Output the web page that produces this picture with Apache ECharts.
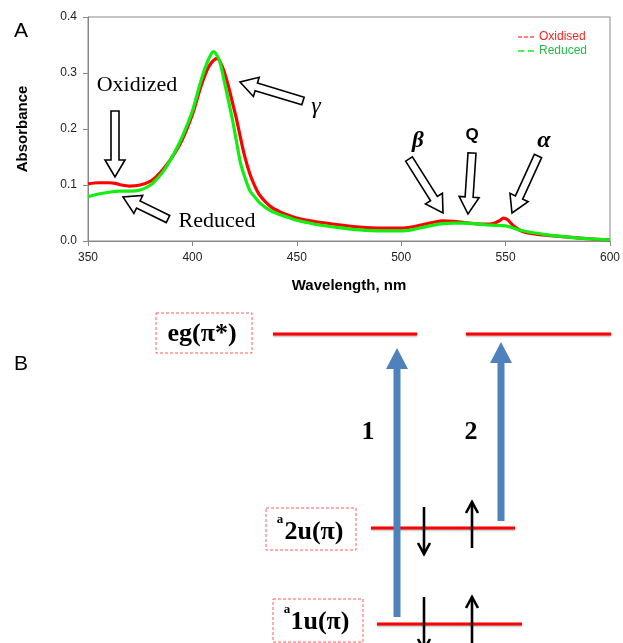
<!DOCTYPE html>
<html>
<head>
<meta charset="utf-8">
<script src="https://cdn.jsdelivr.net/npm/echarts@6/dist/echarts.min.js"></script>
<style>
html,body{margin:0;padding:0;background:#fff;}
#chart{width:623px;height:643px;}
</style>
</head>
<body>
<div id="chart"></div>
<script>
// ---- Data ----
const xTicks = [350, 400, 450, 500, 550, 600];
const yTicks = [0.0, 0.1, 0.2, 0.3, 0.4];
const seriesNames = ['Oxidised', 'Reduced'];

const oxWavelength = [350,355,360,363,366,370,375,380,383,386,390,395,400,404,407,409,411,412,413,415,417,419,421,423,425,427.5,430,432,435,438,442,446,450,455,460,470,480,490,500,505,510,515,520,525,530,535,540,544,547,549,551,553,556,560,570,580,590,600];
const oxAbsorbance = [0.102,0.104,0.104,0.103,0.100,0.098,0.100,0.107,0.116,0.128,0.148,0.180,0.226,0.275,0.305,0.318,0.325,0.326,0.322,0.305,0.280,0.250,0.220,0.185,0.152,0.120,0.097,0.083,0.070,0.060,0.052,0.046,0.041,0.037,0.034,0.029,0.025,0.023,0.023,0.025,0.029,0.033,0.036,0.035,0.033,0.031,0.030,0.031,0.036,0.041,0.038,0.030,0.021,0.015,0.010,0.007,0.004,0.002];

const redWavelength = [350,355,360,365,370,375,380,383,386,390,395,400,404,407,409,410,411,413,415,417,419,421,423,425,427.5,430,432,435,438,442,446,450,455,460,470,480,490,500,505,510,515,520,525,530,535,540,545,550,553,556,560,570,580,590,600];
const redAbsorbance = [0.079,0.084,0.087,0.089,0.089,0.091,0.100,0.111,0.124,0.148,0.185,0.232,0.285,0.318,0.334,0.338,0.336,0.322,0.290,0.255,0.220,0.180,0.140,0.115,0.090,0.078,0.069,0.060,0.053,0.047,0.042,0.037,0.033,0.029,0.024,0.020,0.018,0.018,0.020,0.024,0.028,0.031,0.032,0.032,0.031,0.029,0.028,0.027,0.024,0.020,0.017,0.011,0.007,0.004,0.002];

const colors = { ox: '#ff0000', red: '#11ee11', oxText: '#ff2020', redText: '#22bb44' };

function pairs(xs, ys){ return xs.map((x,i)=>[x, ys[i]]); }

// ---- helpers for drawn annotations ----
function blockArrow(x1,y1,x2,y2,sw,hw,hl,style){
  const dx=x2-x1, dy=y2-y1, L=Math.hypot(dx,dy);
  const ux=dx/L, uy=dy/L, px=-uy, py=ux;
  const bx=x2-ux*hl, by=y2-uy*hl;
  const pts=[
    [x1+px*sw/2, y1+py*sw/2],[bx+px*sw/2, by+py*sw/2],[bx+px*hw/2, by+py*hw/2],
    [x2,y2],[bx-px*hw/2, by-py*hw/2],[bx-px*sw/2, by-py*sw/2],[x1-px*sw/2, y1-py*sw/2]
  ];
  return {type:'polygon', shape:{points:pts}, style:style};
}
function outlineArrow(x1,y1,x2,y2){
  return blockArrow(x1,y1,x2,y2,8,20,17,{fill:'#fff',stroke:'#000',lineWidth:1.6});
}
function blueArrow(x,yBottom,yTip){
  return blockArrow(x,yBottom,x,yTip,7,22,21,{fill:'#4f81bd'});
}
function spinArrow(x,yFrom,yTo){
  const d = yTo>yFrom?1:-1;
  return [
    {type:'line', shape:{x1:x,y1:yFrom,x2:x,y2:yTo}, style:{stroke:'#000',lineWidth:2.6}},
    {type:'polyline', shape:{points:[[x-6,yTo-d*11],[x,yTo],[x+6,yTo-d*11]]}, style:{stroke:'#000',lineWidth:2.6,fill:null}}
  ];
}
function level(x1,x2,y){
  return {type:'line', shape:{x1:x1,y1:y,x2:x2,y2:y}, style:{stroke:'#ff0000',lineWidth:3,shadowBlur:2,shadowColor:'rgba(0,0,0,0.35)',shadowOffsetY:1}};
}
function dashBox(x,y,w,h){
  return {type:'rect', shape:{x:x,y:y,width:w,height:h}, style:{fill:null,stroke:'#ff5a5a',lineWidth:1,lineDash:[3,2]}};
}
function txt(x,y,text,font,extra){
  return Object.assign({type:'text', x:x, y:y, style:Object.assign({text:text, font:font, fill:'#000', textAlign:'center', textVerticalAlign:'middle'}, extra||{})});
}

const serif = "'Liberation Serif','Times New Roman',serif";
const sans = "'Liberation Sans',Arial,sans-serif";

const graphics = [
  txt(21,31,'A','21px '+sans),
  txt(21,364,'B','21px '+sans),
  // panel A annotations
  txt(137,85,'Oxidized','22px '+serif),
  outlineArrow(115,111,115,177),
  txt(217,221,'Reduced','22px '+serif),
  outlineArrow(168,219,123,197),
  outlineArrow(303,101,240,82),
  txt(316,107,'γ','italic 24px '+serif),
  txt(418,141,'β','bold italic 23px '+serif),
  outlineArrow(409,159,443,213),
  txt(472,135,'Q','bold 17px '+sans),
  outlineArrow(472,153,468,214),
  txt(544,141,'α','bold italic 24px '+serif),
  outlineArrow(538,156,512,213),
  // panel B diagram
  dashBox(156,313,96,40),
  txt(202,334,'eg(π*)','bold 26px '+serif),
  level(273,417,334),
  level(466,611,334),
  dashBox(266,508,90,42),
  txt(280,520,'a','bold 13px '+serif),
  txt(314,532,'2u(π)','bold 26px '+serif),
  level(371,515,528),
  dashBox(273,599,90,43),
  txt(287,610,'a','bold 13px '+serif),
  txt(320,622,'1u(π)','bold 26px '+serif),
  level(377,522,624),
  blueArrow(397,617,348),
  blueArrow(501,521,342),
  txt(368,432,'1','bold 26px '+serif),
  txt(471,432,'2','bold 26px '+serif),
  ...spinArrow(424,507,554),
  ...spinArrow(472,548,502),
  ...spinArrow(424,597,650),
  ...spinArrow(472,650,597)
];

const chart = echarts.init(document.getElementById('chart'), null, {renderer:'canvas'});
chart.setOption({
  animation:false,
  backgroundColor:'#fff',
  grid:{left:88, right:9, top:17, height:224, show:true, borderColor:'#888', borderWidth:1},
  legend:{
    orient:'vertical', left:513, top:26, itemWidth:16, itemHeight:8, itemGap:2,
    textStyle:{fontFamily:sans, fontSize:12},
    data:[
      {name:seriesNames[0], icon:'path://M0,0h4v1.2h-4zM6,0h4v1.2h-4zM12,0h4v1.2h-4z', textStyle:{color:colors.oxText}},
      {name:seriesNames[1], icon:'path://M0,0h5v1.2h-5zM8,0h5v1.2h-5z', textStyle:{color:colors.redText}}
    ]
  },
  xAxis:{
    type:'value', min:xTicks[0], max:xTicks[xTicks.length-1], interval:50,
    name:'Wavelength, nm', nameLocation:'middle', nameGap:37,
    nameTextStyle:{fontFamily:sans, fontSize:15, fontWeight:'bold', color:'#000'},
    axisLine:{lineStyle:{color:'#888'}},
    axisTick:{length:5, lineStyle:{color:'#888'}},
    axisLabel:{fontFamily:sans, fontSize:12, color:'#222', margin:11},
    splitLine:{show:false}
  },
  yAxis:{
    type:'value', min:yTicks[0], max:yTicks[yTicks.length-1], interval:0.1,
    name:'Absorbance', nameLocation:'middle', nameGap:58,
    nameTextStyle:{fontFamily:sans, fontSize:15, fontWeight:'bold', color:'#000'},
    axisLine:{show:true, lineStyle:{color:'#888'}},
    axisTick:{show:true, length:5, lineStyle:{color:'#888'}},
    axisLabel:{fontFamily:sans, fontSize:12, color:'#222', margin:11, formatter:v=>v.toFixed(1)},
    splitLine:{show:false}
  },
  series:[
    {name:seriesNames[0], type:'line', data:pairs(oxWavelength, oxAbsorbance), smooth:0.3, showSymbol:false,
     itemStyle:{color:colors.ox}, lineStyle:{color:colors.ox, width:3.2}},
    {name:seriesNames[1], type:'line', data:pairs(redWavelength, redAbsorbance), smooth:0.3, showSymbol:false,
     itemStyle:{color:colors.red}, lineStyle:{color:colors.red, width:3.2}}
  ],
  graphic:graphics
});
</script>
</body>
</html>
